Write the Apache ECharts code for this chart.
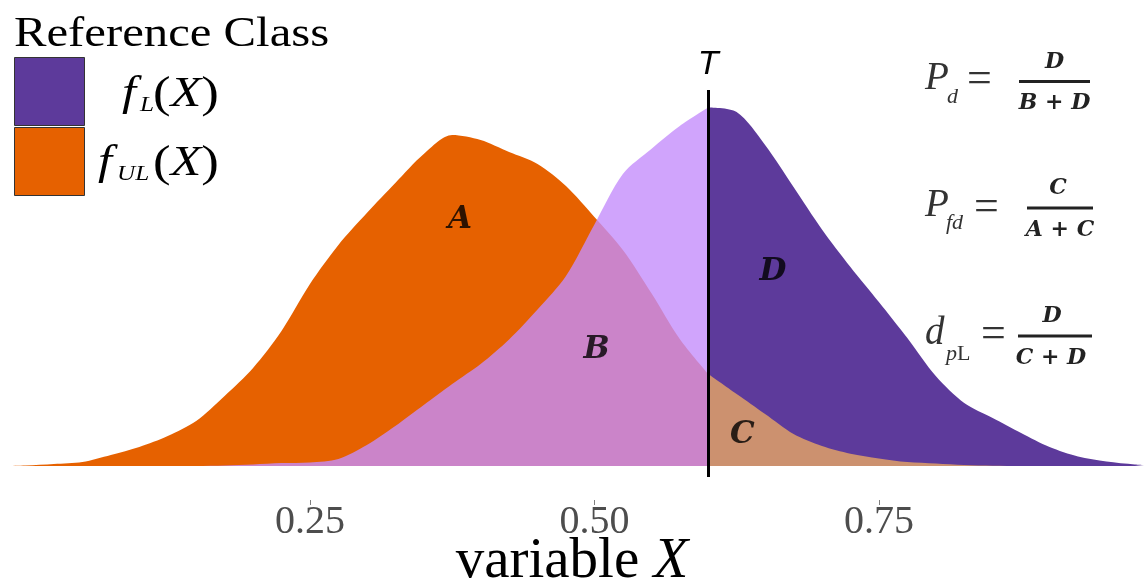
<!DOCTYPE html>
<html><head><meta charset="utf-8">
<script src="https://cdn.jsdelivr.net/npm/echarts@6/dist/echarts.min.js"></script>
<style>html,body{margin:0;padding:0;background:#fff}#c{width:1144px;height:580px}</style>
</head><body><div id="c"></div>
<script>
// ---- data (density estimates) ----
const xValues = [-0.015, 0, 0.025, 0.05, 0.075, 0.1, 0.125, 0.15, 0.175, 0.2, 0.225, 0.25, 0.275, 0.3, 0.325, 0.35, 0.375, 0.4, 0.425, 0.45, 0.475, 0.5, 0.525, 0.55, 0.575, 0.6, 0.625, 0.65, 0.675, 0.7, 0.725, 0.75, 0.775, 0.8, 0.825, 0.85, 0.875, 0.9, 0.925, 0.95, 0.975, 0.983];
const fUL = [0, 0.006, 0.022, 0.044, 0.122, 0.211, 0.333, 0.5, 0.778, 1.089, 1.5, 2.022, 2.456, 2.811, 3.144, 3.467, 3.678, 3.622, 3.489, 3.356, 3.111, 2.767, 2.4, 1.922, 1.411, 1.022, 0.8, 0.578, 0.356, 0.222, 0.137, 0.084, 0.044, 0.028, 0.011, 0.003, 0, 0, 0, 0, 0, 0];
const fL = [0, 0, 0, 0, 0, 0, 0, 0, 0.006, 0.017, 0.033, 0.04, 0.078, 0.233, 0.444, 0.678, 0.911, 1.133, 1.406, 1.739, 2.111, 2.684, 3.244, 3.522, 3.778, 3.983, 3.933, 3.567, 3.1, 2.628, 2.211, 1.822, 1.422, 1.0, 0.7, 0.533, 0.367, 0.211, 0.106, 0.05, 0.017, 0.011];
const threshold = 0.6;
const tickValues = [0.25, 0.5, 0.75];
const regionNames = ['A', 'B', 'C', 'D'];
const regionX = [0.382, 0.502, 0.630, 0.657];
const regionY = [2.733, 1.289, 0.344, 2.156];

function pairs(ys, keep) {
  return xValues.map((x, i) => [x, ys[i]]).filter(p => keep(p[0]));
}
const left = x => x <= threshold;
const right = x => x >= threshold;

const SERIF = 'Liberation Serif';
const chart = echarts.init(document.getElementById('c'), null, {renderer: 'canvas'});

function txt(x, y, text, font, opts) {
  return Object.assign({
    type: 'text', x: x, y: y,
    style: Object.assign({text: text, font: font, fill: '#333', verticalAlign: 'middle', align: 'left'}, (opts && opts.style) || {})
  }, (opts && opts.el) || {});
}
const FR = 'italic bold 22px "DejaVu Serif"';
const parenRich = {a: {fontFamily: SERIF, fontSize: 44, fill: '#000'}, b: {fontFamily: SERIF, fontSize: 42, fontStyle: 'italic', fill: '#000'}};
const graphics = [
  // legend
  txt(14, 35, 'Reference Class', '42px ' + SERIF, {style: {fill: '#000'}, el: {scaleX: 1.16}}),
  {type: 'rect', shape: {x: 14.5, y: 57.5, width: 70, height: 68}, style: {fill: '#5D3A9B', stroke: '#333', lineWidth: 1}},
  {type: 'rect', shape: {x: 14.5, y: 127.5, width: 70, height: 68}, style: {fill: '#E66100', stroke: '#333', lineWidth: 1}},
  txt(122, 94, 'f', 'italic 42px ' + SERIF, {style: {fill: '#000'}, el: {scaleX: 1.2}}),
  txt(140, 105, 'L', 'italic 21px ' + SERIF, {style: {fill: '#000'}, el: {scaleX: 1.2}}),
  txt(98, 163, 'f', 'italic 42px ' + SERIF, {style: {fill: '#000'}, el: {scaleX: 1.2}}),
  txt(117, 174, 'UL', 'italic 21px ' + SERIF, {style: {fill: '#000'}, el: {scaleX: 1.2}}),
  {type: 'text', x: 153, y: 95, scaleX: 1.2, style: {text: '{a|(}{b|X}{a|)}', fill: '#000', verticalAlign: 'middle', rich: parenRich}},
  {type: 'text', x: 153, y: 164, scaleX: 1.2, style: {text: '{a|(}{b|X}{a|)}', fill: '#000', verticalAlign: 'middle', rich: parenRich}},
  // formula 1
  txt(925, 79, 'P', 'italic 39px ' + SERIF),
  txt(947, 97, 'd', 'italic 22px ' + SERIF),
  txt(967, 80, '=', '44px ' + SERIF),
  {type: 'line', shape: {x1: 1019, y1: 81.5, x2: 1090, y2: 81.5}, style: {stroke: '#222', lineWidth: 3}},
  txt(1054.5, 62.5, 'D', FR, {style: {align: 'center', fill: '#222'}}),
  txt(1054.5, 103.5, 'B + D', FR, {style: {align: 'center', fill: '#222'}}),
  // formula 2
  txt(925, 206, 'P', 'italic 39px ' + SERIF),
  txt(946, 223, 'fd', 'italic 22px ' + SERIF),
  txt(974, 208, '=', '44px ' + SERIF),
  {type: 'line', shape: {x1: 1027, y1: 208, x2: 1093, y2: 208}, style: {stroke: '#222', lineWidth: 3}},
  txt(1058, 188.5, 'C', FR, {style: {align: 'center', fill: '#222'}}),
  txt(1060, 230, 'A + C', FR, {style: {align: 'center', fill: '#222'}}),
  // formula 3
  txt(925, 334, 'd', 'italic 39px ' + SERIF),
  {type: 'text', x: 946, y: 354, style: {text: '{p|p}{l|L}', verticalAlign: 'middle',
    rich: {p: {fontFamily: SERIF, fontSize: 22, fontStyle: 'italic', fill: '#333'}, l: {fontFamily: SERIF, fontSize: 22, fill: '#333'}}}},
  txt(981, 335, '=', '44px ' + SERIF),
  {type: 'line', shape: {x1: 1018, y1: 336, x2: 1092, y2: 336}, style: {stroke: '#222', lineWidth: 3}},
  txt(1052, 316.5, 'D', FR, {style: {align: 'center', fill: '#222'}}),
  txt(1051, 358.5, 'C + D', FR, {style: {align: 'center', fill: '#222'}})
];

const areaSeries = (name, data, color, opacity) => ({
  name: name, type: 'line', data: data, smooth: 0.3, symbol: 'none',
  lineStyle: {width: 0, opacity: 0}, itemStyle: {color: color},
  areaStyle: {color: color, opacity: opacity}, silent: true, z: 2
});

const option = {
  animation: false,
  backgroundColor: '#fff',
  grid: {left: 0, right: 0, top: 90, bottom: 80, containLabel: false, outerBoundsMode: 'none'},
  xAxis: {
    type: 'value', min: -0.0224, max: 0.983,
    axisLine: {show: false, onZero: false}, splitLine: {show: false},
    axisTick: {show: true, customValues: tickValues, length: 5, lineStyle: {color: '#7f7f7f', width: 1}},
    axisLabel: {customValues: tickValues, formatter: v => v.toFixed(2), margin: 2,
      fontFamily: SERIF, fontSize: 40, color: '#4D4D4D'},
    name: '{a|variable }{b|X}', nameLocation: 'middle', nameGap: 34, nameMoveOverlap: false,
    nameTextStyle: {rich: {a: {fontFamily: SERIF, fontSize: 57, color: '#000'}, b: {fontFamily: SERIF, fontSize: 57, fontStyle: 'italic', color: '#000'}}}
  },
  yAxis: {type: 'value', min: -0.378, max: 4.178, show: false, splitLine: {show: false}},
  graphic: graphics,
  series: [
    areaSeries('f_UL', pairs(fUL, left), '#E66100', 1),
    areaSeries('f_L (x < T)', pairs(fL, left), '#C48DFB', 0.8),
    areaSeries('f_L', pairs(fL, right), '#5D3A9B', 1),
    Object.assign(areaSeries('f_UL (x > T)', pairs(fUL, right), '#CC916F', 1), {
      markLine: {
        silent: true, symbol: 'none',
        lineStyle: {color: '#000', width: 3, type: 'solid'},
        label: {show: true, position: 'end', formatter: 'T', distance: 8,
          fontFamily: 'Liberation Sans', fontStyle: 'italic', fontSize: 34, color: '#000'},
        data: [[{coord: [threshold, -0.122]}, {coord: [threshold, 4.178]}]]
      }
    }),
    {
      type: 'scatter', symbolSize: 1, itemStyle: {color: 'rgba(0,0,0,0)'}, silent: true, z: 5,
      data: regionNames.map((n, i) => ({name: n, value: [regionX[i], regionY[i]]})),
      label: {show: true, position: 'inside', formatter: '{b}', fontFamily: 'DejaVu Serif',
        fontStyle: 'italic', fontWeight: 'bold', fontSize: 31, color: '#000'}
    }
  ]
};
chart.setOption(option);
</script>
</body></html>
